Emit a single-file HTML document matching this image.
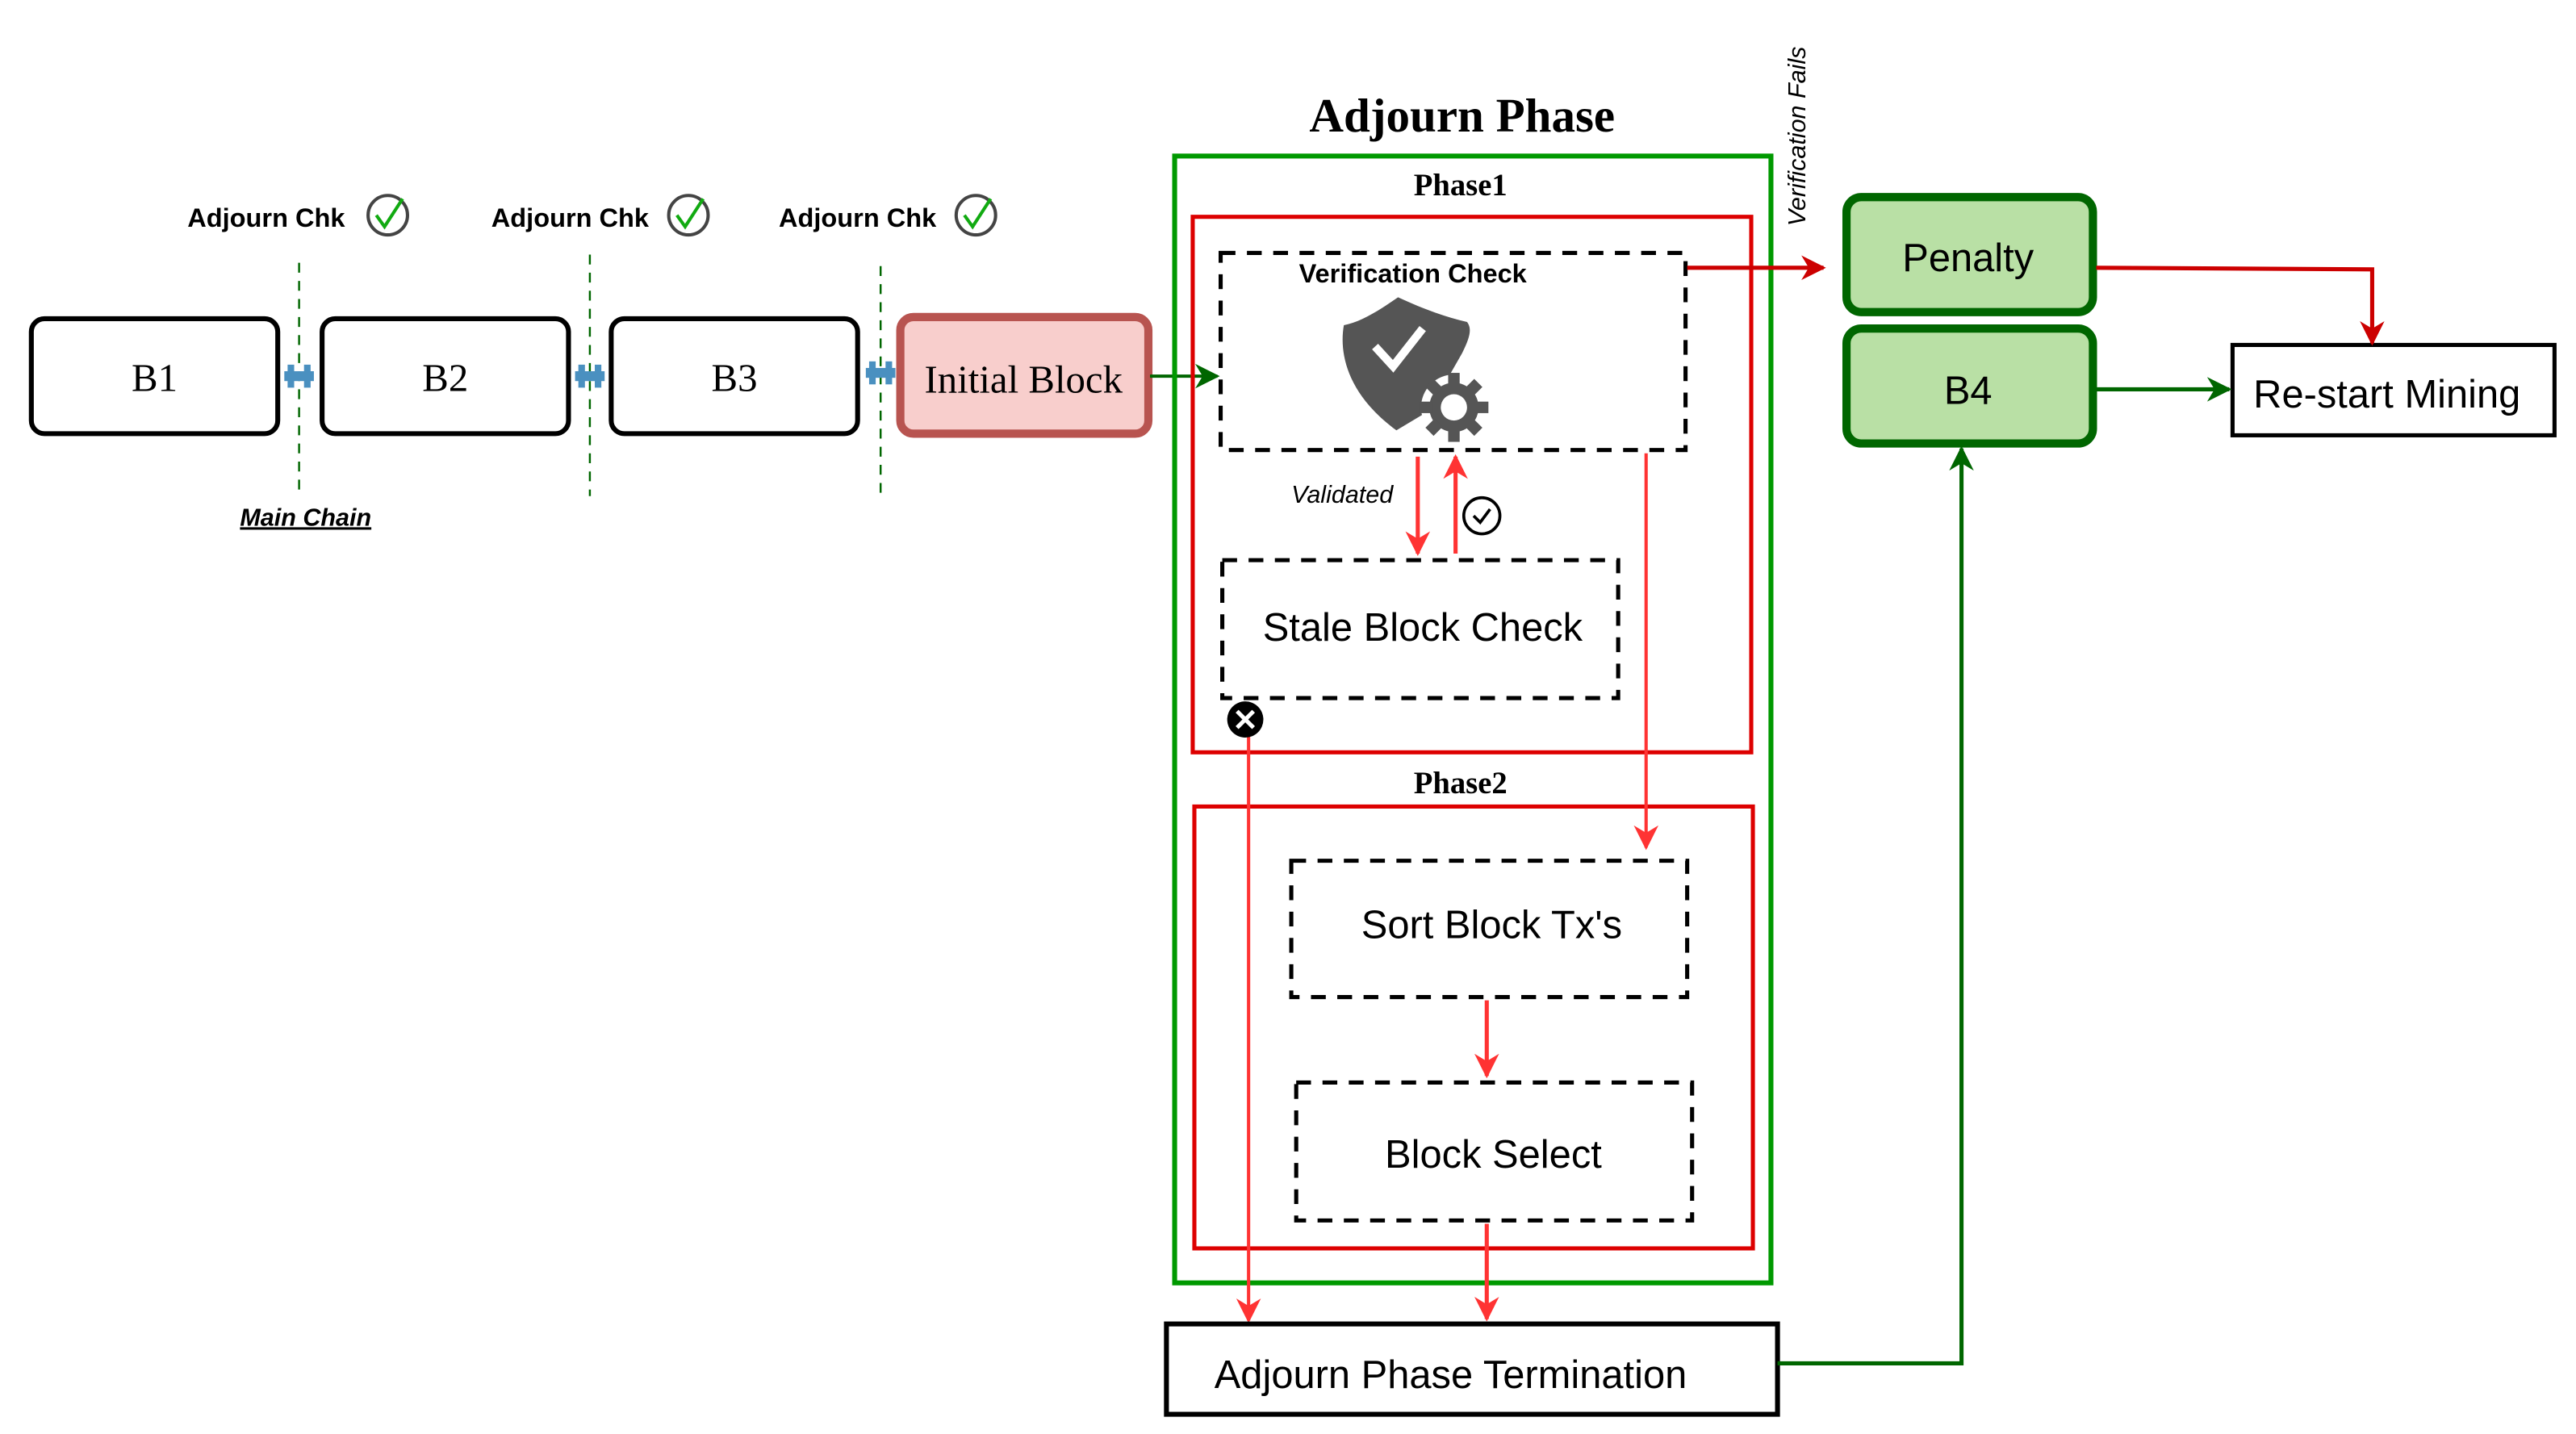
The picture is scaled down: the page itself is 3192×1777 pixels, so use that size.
<!DOCTYPE html>
<html><head><meta charset="utf-8"><style>html,body{margin:0;padding:0;background:#fff}svg{display:block}</style></head>
<body>
<svg width="3192" height="1777" viewBox="0 0 1568 873" xmlns="http://www.w3.org/2000/svg">
<defs>
<marker id="ar" viewBox="0 0 10 10" refX="9" refY="5" markerWidth="15" markerHeight="15" markerUnits="userSpaceOnUse" orient="auto"><path d="M0,0 L10,5 L0,10 L3,5 Z" fill="#FF3333"/></marker>
<marker id="ad" viewBox="0 0 10 10" refX="9" refY="5" markerWidth="15" markerHeight="15" markerUnits="userSpaceOnUse" orient="auto"><path d="M0,0 L10,5 L0,10 L3,5 Z" fill="#CC0000"/></marker>
<marker id="ag" viewBox="0 0 10 10" refX="9" refY="5" markerWidth="15" markerHeight="15" markerUnits="userSpaceOnUse" orient="auto"><path d="M0,0 L10,5 L0,10 L3,5 Z" fill="#006600"/></marker>
</defs>
<rect width="1568" height="873" fill="#fff"/>

<g stroke="#006600" stroke-width="1.2" stroke-dasharray="6,5">
<line x1="182" y1="160" x2="182" y2="300"/>
<line x1="359" y1="155" x2="359" y2="302"/>
<line x1="536" y1="162" x2="536" y2="300"/>
</g>

<g stroke="#000" stroke-width="3" fill="#fff">
<rect x="19" y="194" width="150" height="70" rx="8"/>
<rect x="196" y="194" width="150" height="70" rx="8"/>
<rect x="372" y="194" width="150" height="70" rx="8"/>
</g>
<rect x="548" y="193" width="151" height="71" rx="8" fill="#F8CECC" stroke="#B85450" stroke-width="5"/>
<g font-family="Liberation Serif, serif" font-size="24" text-anchor="middle">
<text x="94" y="238">B1</text><text x="271" y="238">B2</text><text x="447" y="238">B3</text><text x="623" y="239">Initial Block</text>
</g>
<g fill="#4A90C0">
<rect x="173" y="226" width="18" height="6"/><rect x="175" y="222" width="4" height="14"/><rect x="185" y="222" width="4" height="14"/>
<rect x="350" y="226" width="18" height="6"/><rect x="352" y="222" width="4" height="14"/><rect x="362" y="222" width="4" height="14"/>
<rect x="527" y="224" width="18" height="6"/><rect x="529" y="220" width="4" height="14"/><rect x="539" y="220" width="4" height="14"/>
</g>

<g font-family="Liberation Sans, sans-serif" font-size="16" font-weight="bold">
<text x="114" y="138">Adjourn Chk</text><text x="299" y="138">Adjourn Chk</text><text x="474" y="138">Adjourn Chk</text>
</g>
<g fill="none">
<circle cx="236" cy="131" r="12" stroke="#444" stroke-width="2"/><path d="M229,131 L234,138 L245,121" stroke="#1a1" stroke-width="2"/>
<circle cx="419" cy="131" r="12" stroke="#444" stroke-width="2"/><path d="M412,131 L417,138 L428,121" stroke="#1a1" stroke-width="2"/>
<circle cx="594" cy="131" r="12" stroke="#444" stroke-width="2"/><path d="M587,131 L592,138 L603,121" stroke="#1a1" stroke-width="2"/>
</g>
<text x="186" y="320" font-family="Liberation Sans, sans-serif" font-size="15" font-weight="bold" font-style="italic" text-anchor="middle" text-decoration="underline">Main Chain</text>

<line x1="700" y1="229" x2="741" y2="229" stroke="#006600" stroke-width="2" marker-end="url(#ag)"/>

<text x="890" y="80" font-family="Liberation Serif, serif" font-size="29" font-weight="bold" text-anchor="middle">Adjourn Phase</text>
<rect x="715" y="95" width="363" height="686" fill="none" stroke="#009900" stroke-width="3"/>
<text x="889" y="119" font-family="Liberation Serif, serif" font-size="19" font-weight="bold" text-anchor="middle">Phase1</text>
<rect x="726" y="132" width="340" height="326" fill="none" stroke="#DD0000" stroke-width="2.5"/>
<text x="889" y="483" font-family="Liberation Serif, serif" font-size="19" font-weight="bold" text-anchor="middle">Phase2</text>
<rect x="727" y="491" width="340" height="269" fill="none" stroke="#DD0000" stroke-width="2.5"/>

<g fill="none" stroke="#000" stroke-width="2.5" stroke-dasharray="9,7">
<rect x="743" y="154" width="283" height="120"/>
<rect x="744" y="341" width="241" height="84"/>
<rect x="786" y="524" width="241" height="83"/>
<rect x="789" y="659" width="241" height="84"/>
</g>
<text x="860" y="172" font-family="Liberation Sans, sans-serif" font-size="16" font-weight="bold" text-anchor="middle">Verification Check</text>
<path d="M851,181 C838,190 828,196 818,198 C815,215 820,240 850,262 L870,250 L890,215 C895,205 896,200 893,196 C880,193 866,188 851,181 Z" fill="#555"/>
<path d="M837,211 L848,223 L866,200" fill="none" stroke="#fff" stroke-width="5"/>
<circle cx="885" cy="248" r="20" fill="#fff"/>
<g transform="translate(885,248)" fill="#555">
<circle r="15"/>
<g><rect x="-3.5" y="-21" width="7" height="8"/><rect x="-3.5" y="13" width="7" height="8"/><rect x="-21" y="-3.5" width="8" height="7"/><rect x="13" y="-3.5" width="8" height="7"/>
<g transform="rotate(45)"><rect x="-3.5" y="-21" width="7" height="8"/><rect x="-3.5" y="13" width="7" height="8"/><rect x="-21" y="-3.5" width="8" height="7"/><rect x="13" y="-3.5" width="8" height="7"/></g></g>
<circle r="8" fill="#fff"/>
</g>

<line x1="863" y1="278" x2="863" y2="337" stroke="#FF3333" stroke-width="2.5" marker-end="url(#ar)"/>
<line x1="886" y1="337" x2="886" y2="278" stroke="#FF3333" stroke-width="2.5" marker-end="url(#ar)"/>
<text x="817" y="306" font-family="Liberation Sans, sans-serif" font-size="15" font-style="italic" text-anchor="middle">Validated</text>
<circle cx="902" cy="314" r="11" fill="#fff" stroke="#000" stroke-width="1.8"/>
<path d="M897,314 L901,318 L907,310" fill="none" stroke="#000" stroke-width="1.8"/>
<text x="866" y="390" font-family="Liberation Sans, sans-serif" font-size="24" text-anchor="middle">Stale Block Check</text>

<line x1="760" y1="438" x2="760" y2="804" stroke="#FF3333" stroke-width="2" marker-end="url(#ar)"/>
<circle cx="758" cy="438" r="11" fill="#000"/>
<path d="M753,433 L763,443 M763,433 L753,443" stroke="#fff" stroke-width="2.5"/>

<line x1="1002" y1="276" x2="1002" y2="516" stroke="#FF3333" stroke-width="2" marker-end="url(#ar)"/>
<text x="908" y="571" font-family="Liberation Sans, sans-serif" font-size="24" text-anchor="middle">Sort Block Tx's</text>
<line x1="905" y1="609" x2="905" y2="655" stroke="#FF3333" stroke-width="2.5" marker-end="url(#ar)"/>
<text x="909" y="711" font-family="Liberation Sans, sans-serif" font-size="24" text-anchor="middle">Block Select</text>
<line x1="905" y1="745" x2="905" y2="803" stroke="#FF3333" stroke-width="2.5" marker-end="url(#ar)"/>

<rect x="710" y="806" width="372" height="55" fill="#fff" stroke="#000" stroke-width="3"/>
<text x="883" y="845" font-family="Liberation Sans, sans-serif" font-size="24" text-anchor="middle">Adjourn Phase Termination</text>
<polyline points="1082,830 1194,830 1194,273" fill="none" stroke="#006600" stroke-width="2.5" marker-end="url(#ag)"/>

<line x1="1027" y1="163" x2="1110" y2="163" stroke="#CC0000" stroke-width="2.5" marker-end="url(#ad)"/>
<text transform="translate(1099,83) rotate(-90)" font-family="Liberation Sans, sans-serif" font-size="15" font-style="italic" text-anchor="middle">Verification Fails</text>
<rect x="1124" y="120" width="150" height="70" rx="9" fill="#B9E0A5" stroke="#006600" stroke-width="5"/>
<rect x="1124" y="200" width="150" height="70" rx="9" fill="#B9E0A5" stroke="#006600" stroke-width="5"/>
<text x="1198" y="165" font-family="Liberation Sans, sans-serif" font-size="24" text-anchor="middle">Penalty</text>
<text x="1198" y="246" font-family="Liberation Sans, sans-serif" font-size="24" text-anchor="middle">B4</text>
<rect x="1359" y="210" width="196" height="55" fill="#fff" stroke="#000" stroke-width="2.5"/>
<text x="1453" y="248" font-family="Liberation Sans, sans-serif" font-size="24" text-anchor="middle">Re-start Mining</text>
<polyline points="1276,163 1444,164 1444,209" fill="none" stroke="#CC0000" stroke-width="2.5" marker-end="url(#ad)"/>
<line x1="1276" y1="237" x2="1357" y2="237" stroke="#006600" stroke-width="2.5" marker-end="url(#ag)"/>
</svg>
</body></html>
